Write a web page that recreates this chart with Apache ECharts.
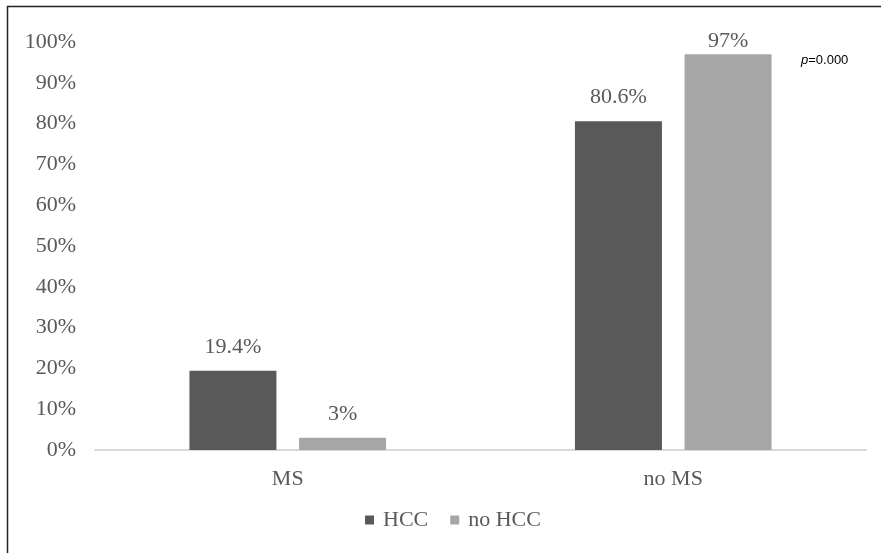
<!DOCTYPE html>
<html>
<head>
<meta charset="utf-8">
<script src="https://cdn.jsdelivr.net/npm/echarts@6/dist/echarts.min.js"></script>
<style>
html,body{margin:0;padding:0;background:#fff;}
#chart{width:881px;height:553px;}
</style>
</head>
<body>
<div id="chart"></div>
<script>
const categories = ['MS', 'no MS'];
const hccValues = [19.4, 80.6];
const noHccValues = [3, 97];
const yTicks = [0, 10, 20, 30, 40, 50, 60, 70, 80, 90, 100];
const seriesNames = ['HCC', 'no HCC'];
const pValueText = '0.000';

const serif = '"Liberation Serif", "Times New Roman", serif';
const textGray = '#595959';
const fontSize = 22;

const chart = echarts.init(document.getElementById('chart'), null, {renderer: 'canvas'});

const labelStyle = {
  show: true,
  position: 'top',
  distance: 13,
  fontFamily: serif,
  fontSize: fontSize,
  color: textGray,
  formatter: p => p.value + '%'
};

// values near the top of the scale keep their label tucked closer to the bar
const withLabels = values => values.map(v => v > 90 ? {value: v, label: {distance: 2}} : v);

chart.setOption({
  animation: false,
  backgroundColor: '#fff',
  grid: {left: 95, right: 15, top: 42, bottom: 103},
  legend: {
    data: seriesNames,
    bottom: 17,
    left: 360,
    itemWidth: 9,
    itemHeight: 9,
    itemGap: 22,
    icon: 'rect',
    textStyle: {fontFamily: serif, fontSize: fontSize, color: textGray, padding: [0, 0, 0, 4]}
  },
  xAxis: {
    type: 'category',
    data: categories,
    axisLine: {lineStyle: {color: '#d9d9d9', width: 2}},
    axisTick: {show: false},
    axisLabel: {fontFamily: serif, fontSize: fontSize, color: textGray, margin: 18}
  },
  yAxis: {
    type: 'value',
    min: yTicks[0],
    max: yTicks[yTicks.length - 1],
    interval: 10,
    splitLine: {show: false},
    axisLine: {show: false},
    axisTick: {show: false},
    axisLabel: {
      fontFamily: serif, fontSize: fontSize, color: textGray, margin: 19,
      padding: [5, 0, 0, 0], formatter: '{value}%'
    }
  },
  series: [
    {
      name: seriesNames[0],
      type: 'bar',
      data: withLabels(hccValues),
      barWidth: 87,
      barGap: '26%',
      itemStyle: {color: '#595959'},
      label: labelStyle
    },
    {
      name: seriesNames[1],
      type: 'bar',
      data: withLabels(noHccValues),
      barWidth: 87,
      itemStyle: {color: '#a6a6a6'},
      label: labelStyle
    }
  ],
  graphic: [
    {type: 'line', shape: {x1: 7, y1: 6.5, x2: 881, y2: 6.5}, style: {stroke: '#222', lineWidth: 1.5}},
    {type: 'line', shape: {x1: 7.5, y1: 6, x2: 7.5, y2: 553}, style: {stroke: '#222', lineWidth: 1.5}},
    {
      type: 'text',
      left: 801,
      top: 54,
      style: {
        rich: {
          i: {fontFamily: '"Liberation Sans", Arial, sans-serif', fontStyle: 'italic', fontSize: 13, fill: '#000'},
          n: {fontFamily: '"Liberation Sans", Arial, sans-serif', fontSize: 13, fill: '#000'}
        },
        text: '{i|p}{n|=' + pValueText + '}'
      }
    }
  ]
});
</script>
</body>
</html>
